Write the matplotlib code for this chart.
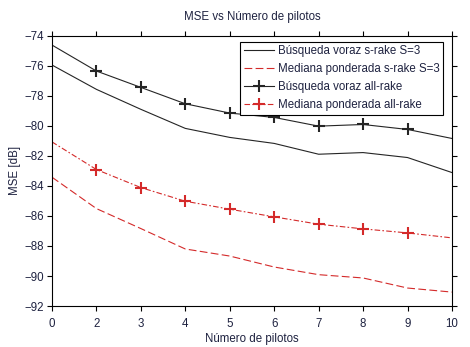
import matplotlib
matplotlib.use('Agg')
import matplotlib.pyplot as plt
import numpy as np

plt.rcParams['font.family'] = ['Liberation Sans', 'DejaVu Sans']
fs = 8.3
txt = '#1e2240'

# data
pilots = ['0', '2', '3', '4', '5', '6', '7', '8', '9', '10']
voraz_s3 = [-75.95, -77.57, -78.9, -80.17, -80.77, -81.17, -81.89, -81.78, -82.11, -83.11]
mediana_s3 = [-83.42, -85.51, -86.84, -88.2, -88.67, -89.4, -89.91, -90.13, -90.8, -91.07]
voraz_all = [-74.62, -76.35, -77.44, -78.53, -79.15, -79.44, -80.02, -79.91, -80.24, -80.84]
mediana_all = [-81.07, -82.91, -84.11, -85.02, -85.55, -86.06, -86.55, -86.86, -87.13, -87.46]

x = np.arange(len(pilots))
inner = list(range(1, len(pilots) - 1))  # markers only on the inner points

fig = plt.figure(figsize=(4.7, 3.47), dpi=100)
ax = fig.add_axes([0.1106, 0.118, 0.851, 0.779])

blk = '#252525'
red = '#d42a2a'
ax.plot(x, voraz_s3, '-', color=blk, lw=0.8, label='Búsqueda voraz s-rake S=3')
ax.plot(x, mediana_s3, color=red, lw=0.8, dashes=(7, 3), label='Mediana ponderada s-rake S=3')
ax.plot(x, voraz_all, '-', color=blk, lw=0.8, marker='+', ms=8, mew=1.5, markevery=inner,
        label='Búsqueda voraz all-rake')
ax.plot(x, mediana_all, color=red, lw=0.8, dashes=(5, 2, 1.5, 2), marker='+', ms=8, mew=1.5,
        markevery=inner, label='Mediana ponderada all-rake')

ax.set_xlim(0, 9)
ax.set_ylim(-92, -74)
ax.set_xticks(x)
ax.set_xticklabels(pilots)
ax.set_yticks(np.arange(-92, -73, 2))
ax.tick_params(direction='out', length=3.5, width=0.8, top=True, right=True,
               labelsize=fs, labelcolor=txt)
ax.tick_params(axis='x', pad=5)
ax.tick_params(axis='y', pad=2)
for s in ax.spines.values():
    s.set_linewidth(0.8)

ax.set_xlabel('Número de pilotos', fontsize=fs, color=txt, labelpad=2)
ax.set_ylabel('MSE [dB]', fontsize=fs, color=txt, labelpad=3)
ax.set_title('MSE vs Número de pilotos', fontsize=fs, color=txt, pad=11)

leg = ax.legend(loc='upper right', bbox_to_anchor=(0.978, 0.977), borderaxespad=0,
                fontsize=fs, handlelength=2.6, handletextpad=0.35, borderpad=0.3,
                labelspacing=0.52, fancybox=False, framealpha=1)
leg.get_frame().set_edgecolor('black')
leg.get_frame().set_linewidth(0.8)
for t in leg.get_texts():
    t.set_color(txt)

plt.savefig('out.png', dpi=100)
